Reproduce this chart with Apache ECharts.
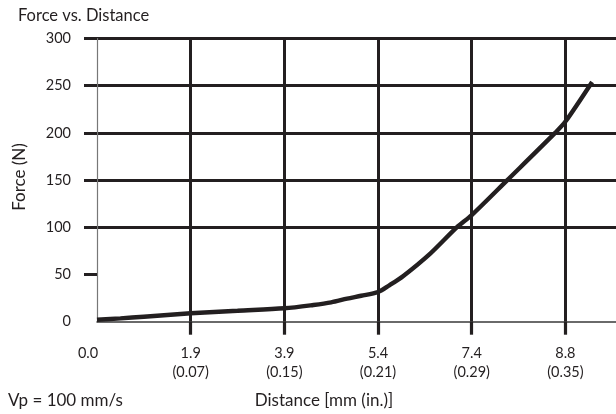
<!DOCTYPE html>
<html>
<head>
<meta charset="utf-8">
<script src="https://cdn.jsdelivr.net/npm/echarts@6/dist/echarts.min.js"></script>
<style>html,body{margin:0;padding:0;background:#fff}#c{width:616px;height:414px}</style>
</head>
<body>
<div id="c"></div>
<script>
// x positions are in "tick units": 0 = first labelled tick, 1 = second, ...
const tickMm = ['0.0', '1.9', '3.9', '5.4', '7.4', '8.8'];
const tickIn = ['', '(0.07)', '(0.15)', '(0.21)', '(0.29)', '(0.35)'];
const yTicks = [0, 50, 100, 150, 200, 250, 300];
const curveX = [0.00, 0.25, 0.50, 1.00, 1.50, 2.00, 2.31, 2.50, 2.67, 2.82, 3.00, 3.12, 3.27, 3.56, 3.84, 4.00, 4.38, 4.89, 5.00, 5.285];
const curveF = [2.0, 3.5, 5.3, 8.9, 11.6, 14.2, 17.7, 20.5, 24.5, 27.5, 31.5, 38.5, 48.5, 72.5, 100, 113, 150, 200, 212, 254];

const ink = '#231f20';
const font = 'Lato';
const chart = echarts.init(document.getElementById('c'), null, {renderer: 'canvas'});
chart.setOption({
  animation: false,
  backgroundColor: '#fff',
  textStyle: {fontFamily: font, color: ink},
  title: {
    text: 'Force vs. Distance', left: 18, top: 7, padding: 0,
    textStyle: {fontFamily: font, fontSize: 16.5, fontWeight: 'normal', color: ink}
  },
  grid: {left: 97, right: 0, top: 38.5, bottom: 92.3, containLabel: false},
  xAxis: {
    type: 'value', min: 0, max: 5.54, interval: 1,
    axisLine: {show: true, lineStyle: {color: '#3a3a3a', width: 1.5}},
    axisTick: {show: true, length: 13, customValues: [1, 2, 3, 4, 5], lineStyle: {color: ink, width: 3.2}},
    splitLine: {show: true, showMinLine: true, showMaxLine: true, lineStyle: {color: ink, width: 3}},
    axisLabel: {
      customValues: [0, 1, 2, 3, 4, 5], margin: 22, fontSize: 14.5, lineHeight: 19, color: ink, fontFamily: font,
      formatter: function (v) {
        const i = Math.round(v);
        if (i === 0) return '{z|' + tickMm[0] + '}';
        return tickMm[i] + '\n' + tickIn[i];
      },
      rich: {z: {fontSize: 14.5, lineHeight: 19, fontFamily: font, color: ink, padding: [0, 18, 0, 0]}}
    }
  },
  yAxis: {
    type: 'value', min: yTicks[0], max: yTicks[yTicks.length - 1], interval: 50,
    axisLine: {show: true, lineStyle: {color: '#777', width: 1.2}},
    axisTick: {show: true, length: 13, customValues: yTicks.slice(1), lineStyle: {color: ink, width: 3}},
    splitLine: {show: true, showMinLine: false, showMaxLine: true, lineStyle: {color: ink, width: 3}},
    axisLabel: {margin: 26, fontSize: 14.5, color: ink, fontFamily: font, padding: [6, 0, 0, 0]}
  },
  graphic: [
    {type: 'text', x: 20, y: 177, rotation: Math.PI / 2,
      style: {text: 'Force (N)', fontSize: 17, fontFamily: font, fill: ink, align: 'center', verticalAlign: 'middle'}},
    {type: 'text', x: 8, y: 401,
      style: {text: 'Vp = 100 mm/s', fontSize: 17, fontFamily: font, fill: ink, align: 'left', verticalAlign: 'middle'}},
    {type: 'text', x: 324, y: 401,
      style: {text: 'Distance [mm (in.)]', fontSize: 17, fontFamily: font, fill: ink, align: 'center', verticalAlign: 'middle'}}
  ],
  series: [{
    type: 'line',
    data: curveX.map((x, i) => [x, curveF[i]]),
    smooth: 0.3,
    showSymbol: false,
    lineStyle: {color: ink, width: 4.4},
    z: 5
  }]
});
</script>
</body>
</html>
